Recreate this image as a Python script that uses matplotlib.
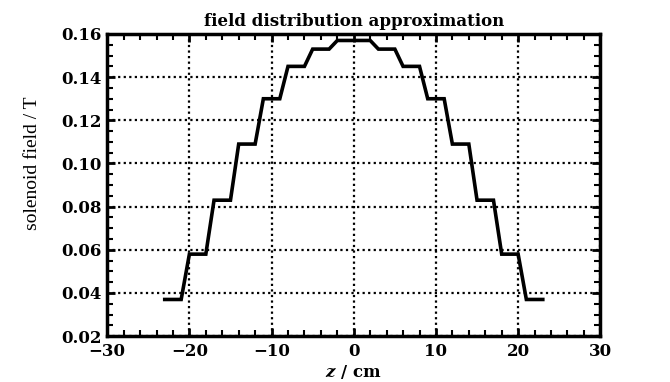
import matplotlib
matplotlib.use("Agg")
import matplotlib.pyplot as plt
from matplotlib.ticker import MultipleLocator

plt.rcParams['font.family'] = ['DejaVu Serif']
plt.rcParams['mathtext.fontset'] = 'custom'
plt.rcParams['mathtext.rm'] = 'DejaVu Serif:bold'
plt.rcParams['mathtext.it'] = 'DejaVu Serif:italic:bold'

z = [-23, -21, -20, -18, -17, -15, -14, -12, -11, -9, -8, -6, -5, -3, -2,
     2, 3, 5, 6, 8, 9, 11, 12, 14, 15, 17, 18, 20, 21, 23]
B = [0.037, 0.037, 0.058, 0.058, 0.083, 0.083, 0.109, 0.109, 0.130, 0.130,
     0.145, 0.145, 0.153, 0.153, 0.157,
     0.157, 0.153, 0.153, 0.145, 0.145, 0.130, 0.130, 0.109, 0.109,
     0.083, 0.083, 0.058, 0.058, 0.037, 0.037]
xticks = [-30, -20, -10, 0, 10, 20, 30]
yticks = [0.02, 0.04, 0.06, 0.08, 0.10, 0.12, 0.14, 0.16]

fig = plt.figure(figsize=(6.7, 3.82), dpi=100)
ax = fig.add_axes([0.160, 0.120, 0.736, 0.791])
ax.plot(z, B, color='black', lw=2.6, solid_joinstyle='miter')
ax.set_xlim(-30, 30)
ax.set_ylim(0.02, 0.16)
ax.set_xticks(xticks)
ax.set_yticks(yticks)
ax.set_yticklabels([f"{v:.2f}" for v in yticks])
ax.set_xticklabels([str(v).replace('-', '\u2212') for v in xticks])
ax.xaxis.set_minor_locator(MultipleLocator(2))
ax.yaxis.set_minor_locator(MultipleLocator(0.005))
ax.tick_params(which='both', direction='in', top=True, right=True, color='black')
ax.tick_params(which='major', length=6, width=2)
ax.tick_params(which='minor', length=4, width=1.5)
ax.tick_params(axis='x', which='major', pad=5)
ax.tick_params(axis='y', which='major', pad=4)
for lab in ax.get_xticklabels() + ax.get_yticklabels():
    lab.set_fontweight('bold')
    lab.set_fontsize(12)
ax.grid(True, which='major', color='black', linestyle=(0, (1, 1.5)), linewidth=1.6)
for s in ax.spines.values():
    s.set_linewidth(2.5)
ax.set_title('field distribution approximation', fontsize=12, fontweight='bold', pad=6)
ax.set_xlabel(r'$z$ / cm', fontsize=12, fontweight='bold', labelpad=2)
ax.set_ylabel('solenoid field / T', fontsize=14, family=['Liberation Serif'])
ax.yaxis.set_label_coords(-0.135, 0.573)
fig.savefig('out.png', dpi=100)
